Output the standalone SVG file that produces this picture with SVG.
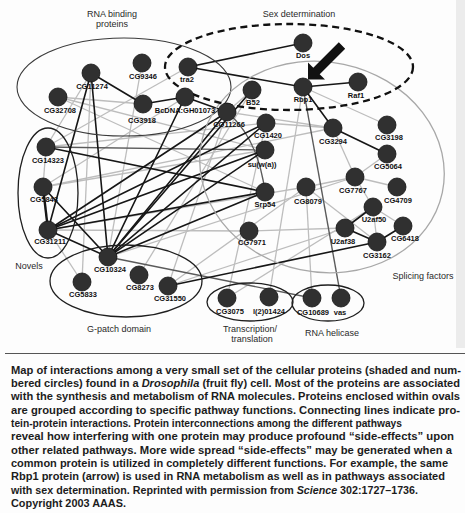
<svg xmlns="http://www.w3.org/2000/svg" width="465" height="513" viewBox="0 0 465 513">
<style>
.k{stroke:#161616;stroke-width:1.6;fill:none;stroke-linecap:round}
.d{stroke:#5a5a5a;stroke-width:1.4;fill:none}
.g{stroke:#bdbdbd;stroke-width:1.3;fill:none}
.ov{fill:none;stroke:#1e1e1e;stroke-width:1.3}
.n{fill:#303030;stroke:#141414;stroke-width:0.8}
.l{font-family:"Liberation Sans",Arial,sans-serif;font-weight:700;font-size:7.5px;fill:#111;text-anchor:middle}
.cat{font-family:"Liberation Sans",Arial,sans-serif;font-size:9px;fill:#2a2a2a;text-anchor:middle}
.cap{font-family:"Liberation Sans",Arial,sans-serif;font-weight:700;font-size:11.1px;fill:#1c1c1c}
.cs{font-size:10.6px}
</style>
<rect x="0" y="0" width="465" height="513" fill="#fdfdfd"/>
<rect x="456" y="0" width="9" height="348" fill="#ececec"/>

<g id="connectors">
<g id="light-edges">
<line class="g" x1="58" y1="97" x2="143" y2="104"/>
<line class="g" x1="58" y1="97" x2="265" y2="192"/>
<line class="g" x1="58" y1="97" x2="265" y2="150"/>
<line class="g" x1="142" y1="63" x2="108" y2="257"/>
<line class="g" x1="91" y1="73" x2="46" y2="147"/>
<line class="g" x1="91" y1="73" x2="82" y2="282"/>
<line class="g" x1="46" y1="147" x2="43" y2="187"/>
<line class="g" x1="46" y1="147" x2="266" y2="123"/>
<line class="g" x1="43" y1="187" x2="265" y2="150"/>
<line class="g" x1="43" y1="187" x2="333" y2="128"/>
<line class="g" x1="48" y1="230" x2="249" y2="231"/>
<line class="g" x1="48" y1="230" x2="306" y2="187"/>
<line class="g" x1="48" y1="230" x2="82" y2="282"/>
<line class="g" x1="185" y1="97" x2="43" y2="187"/>
<line class="g" x1="188" y1="67" x2="46" y2="147"/>
<line class="g" x1="139" y1="275" x2="252" y2="90"/>
<line class="g" x1="168" y1="286" x2="306" y2="187"/>
<line class="g" x1="168" y1="286" x2="345" y2="228"/>
<line class="g" x1="227" y1="112" x2="168" y2="286"/>
<line class="g" x1="227" y1="298" x2="266" y2="123"/>
<line class="g" x1="227" y1="298" x2="373" y2="207"/>
<line class="g" x1="269" y1="297" x2="303" y2="87"/>
<line class="g" x1="312" y1="298" x2="306" y2="187"/>
<line class="g" x1="108" y1="257" x2="355" y2="177"/>
<line class="g" x1="303" y1="87" x2="387" y2="125"/>
<line class="g" x1="252" y1="90" x2="227" y2="112"/>
<line class="g" x1="266" y1="123" x2="333" y2="128"/>
<line class="g" x1="227" y1="112" x2="333" y2="128"/>
<line class="g" x1="333" y1="128" x2="355" y2="177"/>
<line class="g" x1="355" y1="177" x2="397" y2="187"/>
<line class="g" x1="355" y1="177" x2="306" y2="187"/>
<line class="g" x1="355" y1="177" x2="373" y2="207"/>
<line class="g" x1="387" y1="154" x2="355" y2="177"/>
<line class="g" x1="373" y1="207" x2="377" y2="242"/>
<line class="g" x1="373" y1="207" x2="403" y2="226"/>
<line class="g" x1="345" y1="228" x2="249" y2="231"/>
<line class="g" x1="377" y1="242" x2="306" y2="187"/>
</g>
<g id="dark-edges">
<line class="d" x1="46" y1="147" x2="265" y2="150"/>
<line class="d" x1="303" y1="87" x2="341" y2="298"/>
<line class="d" x1="108" y1="257" x2="312" y2="298"/>
<path class="d" d="M227,112 Q258,138 265,192"/>
</g>
<g id="black-edges">
<line class="k" x1="91" y1="73" x2="143" y2="104"/>
<line class="k" x1="143" y1="104" x2="185" y2="97"/>
<line class="k" x1="185" y1="97" x2="227" y2="112"/>
<line class="k" x1="188" y1="67" x2="303" y2="43"/>
<line class="k" x1="188" y1="67" x2="303" y2="87"/>
<line class="k" x1="303" y1="87" x2="358" y2="82"/>
<line class="k" x1="303" y1="87" x2="333" y2="128"/>
<line class="k" x1="333" y1="128" x2="387" y2="154"/>
<line class="k" x1="373" y1="207" x2="345" y2="228"/>
<line class="k" x1="345" y1="228" x2="377" y2="242"/>
<line class="k" x1="403" y1="226" x2="377" y2="242"/>
<line class="k" x1="168" y1="286" x2="377" y2="242"/>
<line class="k" x1="46" y1="147" x2="265" y2="192"/>
<line class="k" x1="43" y1="187" x2="48" y2="230" style="stroke-width:2.4"/>
<line class="k" x1="43" y1="187" x2="108" y2="257"/>
<line class="k" x1="48" y1="230" x2="108" y2="257"/>
<line class="k" x1="91" y1="73" x2="108" y2="257"/>
<line class="k" x1="91" y1="73" x2="48" y2="230"/>
<line class="k" x1="108" y1="257" x2="185" y2="97"/>
<line class="k" x1="108" y1="257" x2="227" y2="112"/>
<line class="k" x1="108" y1="257" x2="252" y2="90"/>
<line class="k" x1="108" y1="257" x2="266" y2="123"/>
<line class="k" x1="108" y1="257" x2="265" y2="150"/>
<line class="k" x1="108" y1="257" x2="265" y2="192"/>
<line class="k" x1="48" y1="230" x2="227" y2="112"/>
<line class="k" x1="48" y1="230" x2="266" y2="123"/>
<line class="k" x1="48" y1="230" x2="265" y2="150"/>
<line class="k" x1="48" y1="230" x2="265" y2="192"/>
</g>
</g>

<g id="groups">
<ellipse id="rna-binding-oval" cx="124" cy="87" rx="107" ry="49" fill="none" stroke="#3a3a3a" stroke-width="1.1"/>
<ellipse id="splicing-oval" cx="322" cy="167" rx="123" ry="105" transform="rotate(12 322 167)" fill="none" stroke="#a8a8a8" stroke-width="1.3"/>
<ellipse id="novels-oval" class="ov" cx="48" cy="193" rx="30" ry="65"/>
<ellipse id="gpatch-oval" class="ov" cx="126" cy="281" rx="76" ry="36"/>
<ellipse id="transcription-oval" class="ov" cx="250" cy="302" rx="43" ry="19"/>
<ellipse id="helicase-oval" class="ov" cx="328" cy="303" rx="36" ry="18"/>
<ellipse id="sex-oval" cx="289" cy="67" rx="124" ry="43" fill="none" stroke="#111" stroke-width="2.3" stroke-dasharray="7 4.5"/>
</g>

<g id="nodes">
<g id="CG9346"><circle class="n" cx="142" cy="63" r="9"/><text class="l" x="143" y="79">CG9346</text></g>
<g id="CG11274"><circle class="n" cx="91" cy="73" r="9"/><text class="l" x="92" y="89">CG11274</text></g>
<g id="CG32708"><circle class="n" cx="58" cy="97" r="9"/><text class="l" x="60" y="113">CG32708</text></g>
<g id="CG3918"><circle class="n" cx="143" cy="104" r="9"/><text class="l" x="142" y="122.5">CG3918</text></g>
<g id="BcDNA"><circle class="n" cx="185" cy="97" r="9"/><text class="l" x="185" y="112.5">BcDNA:GH01073</text></g>
<g id="tra2"><circle class="n" cx="188" cy="67" r="9"/><text class="l" x="187" y="82">tra2</text></g>
<g id="CG11266"><circle class="n" cx="227" cy="112" r="9"/><text class="l" x="229" y="127">CG11266</text></g>
<g id="Dos"><circle class="n" cx="303" cy="43" r="9"/><text class="l" x="303" y="58">Dos</text></g>
<g id="Rbp1"><circle class="n" cx="303" cy="87" r="9"/><text class="l" x="303" y="102">Rbp1</text></g>
<g id="Raf1"><circle class="n" cx="358" cy="82" r="9"/><text class="l" x="356" y="98">Raf1</text></g>
<g id="B52"><circle class="n" cx="252" cy="90" r="9"/><text class="l" x="253" y="105">B52</text></g>
<g id="CG1420"><circle class="n" cx="266" cy="123" r="9"/><text class="l" x="268" y="138">CG1420</text></g>
<g id="suwa"><circle class="n" cx="265" cy="150" r="9"/><text class="l" x="262" y="167">su(w(a))</text></g>
<g id="CG3294"><circle class="n" cx="333" cy="128" r="9"/><text class="l" x="333" y="144">CG3294</text></g>
<g id="CG3198"><circle class="n" cx="387" cy="125" r="9"/><text class="l" x="389" y="140">CG3198</text></g>
<g id="CG5064"><circle class="n" cx="387" cy="154" r="9"/><text class="l" x="388" y="169">CG5064</text></g>
<g id="CG14323"><circle class="n" cx="46" cy="147" r="9"/><text class="l" x="48" y="163">CG14323</text></g>
<g id="CG5843"><circle class="n" cx="43" cy="187" r="9"/><text class="l" x="44" y="202">CG5843</text></g>
<g id="CG31211"><circle class="n" cx="48" cy="230" r="9"/><text class="l" x="50" y="244">CG31211</text></g>
<g id="Srp54"><circle class="n" cx="265" cy="192" r="9"/><text class="l" x="265" y="207">Srp54</text></g>
<g id="CG8079"><circle class="n" cx="306" cy="187" r="9"/><text class="l" x="308" y="204">CG8079</text></g>
<g id="CG7767"><circle class="n" cx="355" cy="177" r="9"/><text class="l" x="353" y="193">CG7767</text></g>
<g id="CG4709"><circle class="n" cx="397" cy="187" r="9"/><text class="l" x="398" y="203">CG4709</text></g>
<g id="U2af50"><circle class="n" cx="373" cy="207" r="9"/><text class="l" x="374" y="222">U2af50</text></g>
<g id="U2af38"><circle class="n" cx="345" cy="228" r="9"/><text class="l" x="343" y="244">U2af38</text></g>
<g id="CG6418"><circle class="n" cx="403" cy="226" r="9"/><text class="l" x="405" y="241">CG6418</text></g>
<g id="CG3162"><circle class="n" cx="377" cy="242" r="9"/><text class="l" x="377" y="258">CG3162</text></g>
<g id="CG7971"><circle class="n" cx="249" cy="231" r="9"/><text class="l" x="252" y="245">CG7971</text></g>
<g id="CG10324"><circle class="n" cx="108" cy="257" r="9"/><text class="l" x="110" y="272">CG10324</text></g>
<g id="CG5833"><circle class="n" cx="82" cy="282" r="9"/><text class="l" x="83" y="297">CG5833</text></g>
<g id="CG8273"><circle class="n" cx="139" cy="275" r="9"/><text class="l" x="140" y="290">CG8273</text></g>
<g id="CG31550"><circle class="n" cx="168" cy="286" r="9"/><text class="l" x="170" y="301">CG31550</text></g>
<g id="CG3075"><circle class="n" cx="227" cy="298" r="9"/><text class="l" x="230" y="314">CG3075</text></g>
<g id="l201424"><circle class="n" cx="269" cy="297" r="9"/><text class="l" x="269" y="314">l(2)01424</text></g>
<g id="CG10689"><circle class="n" cx="312" cy="298" r="9"/><text class="l" x="313" y="315">CG10689</text></g>
<g id="vas"><circle class="n" cx="341" cy="298" r="9"/><text class="l" x="340" y="315">vas</text></g>
</g>

<g id="arrow">
<polygon points="308,79.5 308,62.5 313.3,67.8 338.8,42.3 345.2,48.7 319.7,74.2 325,79.5" fill="#111"/>
</g>

<g id="group-labels">
<text class="cat" x="112" y="16.5">RNA binding</text>
<text class="cat" x="112" y="27">proteins</text>
<text class="cat" x="299" y="17">Sex determination</text>
<text class="cat" x="29" y="268.5">Novels</text>
<text class="cat" x="119" y="332">G-patch domain</text>
<text class="cat" x="250" y="331.5">Transcription/</text>
<text class="cat" x="252" y="342">translation</text>
<text class="cat" x="332" y="336">RNA helicase</text>
<text class="cat" x="423" y="279">Splicing factors</text>
</g>

<line x1="5" y1="353.5" x2="465" y2="353.5" stroke="#555" stroke-width="1"/>

<g id="caption">
<text class="cap" x="11" y="373.5" textLength="450" lengthAdjust="spacingAndGlyphs">Map of interactions among a very small set of the cellular proteins (shaded and num-</text>
<text class="cap" x="11" y="386.9" textLength="449" lengthAdjust="spacingAndGlyphs">bered circles) found in a <tspan font-style="italic">Drosophila</tspan> (fruit fly) cell. Most of the proteins are associated</text>
<text class="cap" x="11" y="400.2" textLength="449" lengthAdjust="spacingAndGlyphs">with the synthesis and metabolism of RNA molecules. Proteins enclosed within ovals</text>
<text class="cap" x="11" y="413.6" textLength="449" lengthAdjust="spacingAndGlyphs">are grouped according to specific pathway functions. Connecting lines indicate pro-</text>
<text class="cap" x="11" y="426.9" textLength="391" lengthAdjust="spacingAndGlyphs">tein-protein interactions. Protein interconnections among the different pathways</text>
<text class="cap" x="11" y="440.3" textLength="443" lengthAdjust="spacingAndGlyphs">reveal how interfering with one protein may produce profound “side-effects” upon</text>
<text class="cap" x="11" y="453.6" textLength="441" lengthAdjust="spacingAndGlyphs">other related pathways. More wide spread “side-effects” may be generated when a</text>
<text class="cap" x="11" y="467" textLength="437" lengthAdjust="spacingAndGlyphs">common protein is utilized in completely different functions. For example, the same</text>
<text class="cap" x="11" y="480.3" textLength="434" lengthAdjust="spacingAndGlyphs">Rbp1 protein (arrow) is used in RNA metabolism as well as in pathways associated</text>
<text class="cap cs" x="11" y="493.7" textLength="282.7" lengthAdjust="spacingAndGlyphs">with sex determination. Reprinted with permission from</text>
<text class="cap cs" x="296.7" y="493.7" textLength="40.4" lengthAdjust="spacingAndGlyphs" font-style="italic">Science</text>
<text class="cap cs" x="340.1" y="493.7" textLength="77.9" lengthAdjust="spacingAndGlyphs">302:1727–1736.</text>
<text class="cap" x="11" y="507" textLength="115" lengthAdjust="spacingAndGlyphs">Copyright 2003 AAAS.</text>
</g>
</svg>
